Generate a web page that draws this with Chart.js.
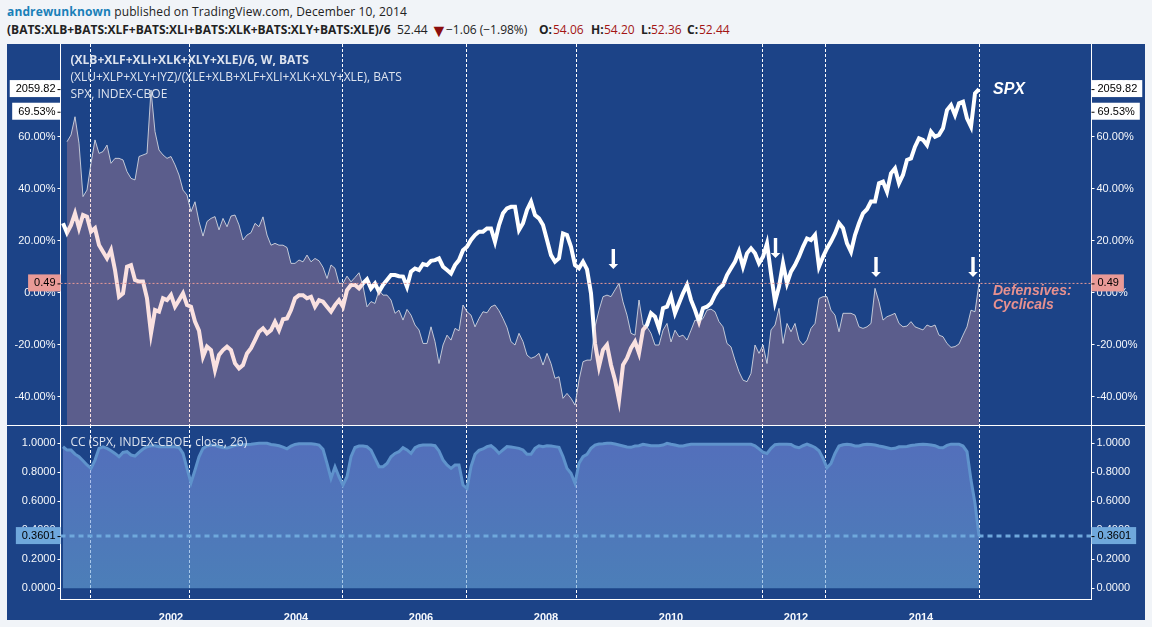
<!DOCTYPE html>
<html>
<head>
<meta charset="utf-8">
<title>Defensives:Cyclicals vs SPX</title>
<script src="https://cdn.jsdelivr.net/npm/chart.js@4"></script>
<style>
  html, body { margin: 0; padding: 0; width: 1152px; height: 627px; overflow: hidden; background: #f1f4f8; }
  #head { position: absolute; left: 0; top: 0; font-family: "Open Sans", sans-serif; font-size: 12px; line-height: 18px; color: #222; white-space: nowrap; }
  #head span { position: absolute; }
  #head .by { left: 7px; top: 3px; letter-spacing: 0.13px; }
  #head a { color: #1a80b8; font-weight: bold; }
  #head b { color: #222; }
  #head i { position: absolute; top: 21px; color: #a31515; font-style: normal; }
  #head .row { top: 21px; }
  #head .tri { top: 21px; left: 430px; font-size: 18px; color: #8c0d0d; }
  #panel { position: absolute; left: 7px; top: 44px; width: 1138px; height: 576px; background: #1c4387; }
  #top { position: absolute; left: 0; top: 0; }
  #bottom { position: absolute; left: 0; top: 381px; }
</style>
</head>
<body>
<div id="head">
  <span class="by"><a>andrewunknown</a> published on TradingView.com, December 10, 2014</span>
  <span class="row" style="left:7px"><b>(BATS:XLB+BATS:XLF+BATS:XLI+BATS:XLK+BATS:XLY+BATS:XLE)/6</b></span>
  <span class="row" style="left:397px">52.44</span>
  <span class="tri">&#9660;</span>
  <span class="row" style="left:446px">&minus;1.06 (&minus;1.98%)</span>
  <span class="row" style="left:539px"><b>O:</b></span><i style="left:553px">54.06</i>
  <span class="row" style="left:591px"><b>H:</b></span><i style="left:604px">54.20</i>
  <span class="row" style="left:641px"><b>L:</b></span><i style="left:651px">52.36</i>
  <span class="row" style="left:687px"><b>C:</b></span><i style="left:699px">52.44</i>
</div>
<div id="panel">
  <canvas id="top" width="1138" height="381"></canvas>
  <canvas id="bottom" width="1138" height="195"></canvas>
</div>
<script>
// one sample every 0.064 year
const firstDate = 2000.272;
const dateStep = 0.064;
const dates = [];
for (let i = 0; i < 230; i++) dates.push(firstDate + dateStep * i);

// defensives:cyclicals, in percent
const ratio = [null,
  58.0, 60.6, 67.6, 57.4, 36.9, 39.4, 49.7, 58.7, 53.5, 54.2, 56.7, 49.7, 51.6, 51.6, 51.0, 46.5, 43.9, 43.3, 52.3, 52.9, 53.5, 77.9, 61.9, 54.8, 52.9,
  51.6, 52.3, 49.1, 45.2, 39.4, 37.5, 31.1, 34.9, 27.3, 21.7, 27.3, 28.5, 29.2, 24.1, 28.5, 25.3, 29.4, 29.8, 26.0, 20.2, 22.1, 23.0, 26.6, 25.3,
  29.1, 22.1, 18.2, 18.9, 18.2, 18.2, 17.3, 11.2, 11.2, 12.5, 11.8, 14.4, 11.8, 13.1, 12.2, 9.7, 5.4, 10.6, 9.3, 3.5, 3.5, 6.3, 4.1, 5.8, 7.6,
  2.5, -5.5, -3.5, -4.2, 0.9, -1.0, -1.0, -2.9, -8.0, -6.8, -10.6, -6.5, -8.7, -12.5, -14.4, -19.6, -19.6, -13.2, -18.9, -27.3, -20.2, -16.4, -18.3, -13.8, -14.7,
  -4.8, -7.4, -8.7, -13.2, -10.0, -7.4, -7.8, -5.5, -4.8, -7.0, -10.0, -13.4, -18.9, -20.2, -15.7, -18.9, -24.1, -25.3, -24.7, -23.4, -27.9, -23.4, -27.3, -33.0, -32.4,
  -40.7, -38.8, -40.7, -43.3,
  -33.7, -26.6, -26.0, -26.0, -13.2, -6.8, -1.6, -1.0, -1.6, 1.0, 3.5, -3.6, -8.7, -15.7, -16.4, -2.9, -12.5, -13.2, -15.7, -20.2, -20.2, -14.5, -11.9,
  -19.0, -14.5, -17.0, -16.4, -18.3, -14.5, -10.6, -11.2, -10.0, -6.8, -6.4, -7.4, -11.2, -13.2, -19.6, -20.9, -26.0, -30.5, -33.7, -34.3, -31.1, -20.2, -23.4,
  -20.2, -27.3, -14.4, -12.5, -6.1, -19.6, -11.9, -15.1, -11.9, -18.3, -20.2, -18.3, -13.8, -11.9, -2.3, -1.6, -1.6, -6.8, -8.7, -15.1, -8.0, -8.0, -8.0, -8.7, -13.2,
  -13.8, -13.2, -11.9, 1.6, -3.6, -10.6, -9.3, -8.7, -8.0, -11.9, -13.2, -12.9, -11.2, -13.2, -13.8, -14.4, -12.5, -13.2, -12.5, -16.4, -17.0, -19.6, -21.1, -20.8, -19.8,
  -16.4, -13.2, -6.8, -7.4, 3.5
];

// S&P 500 close
const spx = [
  1466, 1424, 1458, 1510, 1444, 1503, 1495, 1429, 1444, 1370, 1340, 1311, 1348, 1259, 1141, 1156, 1274, 1281, 1215, 1208, 1208, 1134, 979, 1082, 1075,
  1134, 1126, 1149, 1097, 1126, 1156, 1104, 1097, 1031, 991, 876, 920, 905, 817, 883, 905, 920, 905, 846, 824, 839, 890, 913, 949, 986,
  1001, 979, 993, 1030, 993, 1041, 1045, 1082, 1134, 1148, 1148, 1134, 1141, 1097, 1126, 1119, 1097, 1075, 1104, 1126, 1097, 1170, 1193, 1193, 1178,
  1200, 1218, 1178, 1200, 1163, 1193, 1215, 1237, 1237, 1232, 1230, 1185, 1252, 1266, 1259, 1286, 1281, 1300, 1303, 1311, 1274, 1259, 1244, 1281, 1303,
  1347, 1362, 1392, 1414, 1429, 1429, 1443, 1443, 1384, 1458, 1510, 1532, 1539, 1539, 1436, 1466, 1525, 1561, 1502, 1488, 1458, 1392, 1325, 1296, 1311,
  1421, 1414, 1362, 1281,
  1267, 1296, 1262, 1156, 935, 832, 906, 928, 839, 773, 684, 839, 869, 913, 942, 891, 994, 1016, 1068, 1053, 1001, 1090, 1097,
  1142, 1068, 1112, 1156, 1193, 1127, 1083, 1031, 1090, 1097, 1112, 1149, 1178, 1193, 1237, 1267, 1296, 1341, 1274, 1333, 1355, 1333, 1289,
  1318, 1377, 1244, 1119, 1185, 1289, 1200, 1252, 1281, 1318, 1362, 1399, 1392, 1414, 1274, 1318, 1355, 1385, 1421, 1466, 1444, 1377, 1340, 1414, 1466,
  1510, 1528, 1562, 1562, 1643, 1650, 1606, 1687, 1709, 1643, 1680, 1746, 1753, 1805, 1842, 1835, 1812, 1871, 1849, 1857, 1886, 1967, 1989, 1945, 1997,
  2004, 1930, 1893, 2041, 2059.82
];

// CC (SPX, close, 26)
const cc = [
  .976, .953, .953, .925, .907, .880, .850, .827, .884, .965, .976, .965, .949, .930, .907, .937, .942, .919, .912, .937, .960, .976, .983, .983, .976,
  .976, .976, .976, .976, .971, .930, .827, .728, .815, .907, .965, .981, .988, .985, .976, .971, .967, .976, .985, .990, .990, .992, .994, .997, 1.0,
  1.0, 1.0, .992, .988, .983, .974, .962, .981, .992, .997, .997, .997, .997, .994, .988, .958, .861, .758, .838, .769, .712, .769, .907, .971, .981,
  .981, .976, .953, .896, .838, .838, .861, .907, .930, .942,
  .970, .954, .931, .970, .983, .988, .988, .988, .983, .947, .885, .850, .827, .850, .850, .712, .689, .839, .924, .951, .961, .977, .983, .961, .931,
  .954, .977, .974, .970, .965, .954, .924, .924, .965, .983, .977, .983, .981, .977, .972, .908, .827, .793, .724, .862, .908, .924, .965, .988, .995,
  .997, 1.0, 1.0, .995, .988, .981, .974, .972, .981, .983, .993, .988, .983, .983, .983, .988, 1.0, .993, .988, .981, .981, .988, .993,
  .993, .993, .993, .993, .993, .993, .993, .993, .993, .993, .993, .993, .993, .993, .993, .983, .961, .938,
  .930, .965, .990, .994, .994, .994, .992, .976, .969, .983, .994, .983, .971, .948, .896, .831, .861, .930, .981, .990, .994, .990, .981, .981, .990,
  .994, .992, .988, .981, .976, .969, .962, .965, .976, .976, .978, .985, .988, .992, .994, .992, .988, .983, .971, .969, .985, .994, .994, .994, .981,
  .942, .746, .585, .3601
];

// dashed verticals and the arrows above the ratio spikes
const eventDates = [2000.712, 2002.296, 2004.744, 2006.728, 2008.488, 2011.472, 2012.472, 2014.928];
const arrowDates = [2009.077, 2011.672, 2013.28, 2014.832];
const arrowTips = [9.0, 13.3, 6.0, 6.0];

// axis ticks
const pctTicks = [80, 60, 40, 20, 0, -20, -40];
const ccTicks = [1, 0.8, 0.6, 0.4, 0.2, 0];
const yearTicks = [2002, 2004, 2006, 2008, 2010, 2012, 2014];

const lastSpx = '2059.82';
const lastRatioText = '0.49';
const lastPctText = '69.53%';
const lastPct = 69.53;
const lastCcText = '0.3601';

const xMin = 2000.232, xMax = 2016.728;

const tickFont = { family: '"Liberation Sans", Arial, sans-serif', size: 11 };
const tickColor = '#f6f8fb';
const captionColor = '#dde3ee';

function pairs(values) {
  return dates.map((d, i) => ({ x: d, y: values[i] }));
}

function level(value) {
  return [{ x: xMin, y: value }, { x: xMax, y: value }];
}

function noPadding(scale) {
  scale.paddingTop = 0;
  scale.paddingBottom = 0;
  scale.paddingLeft = 0;
  scale.paddingRight = 0;
}

function yAxis(position, ticks, min, max, format) {
  return {
    position,
    min,
    max,
    afterBuildTicks: scale => { scale.ticks = ticks.map(v => ({ value: v })); },
    afterFit: scale => { scale.width = 53.5; noPadding(scale); },
    border: { display: true, color: '#ffffff', width: 1 },
    grid: { display: true, drawOnChartArea: false, drawTicks: true, tickLength: 3, color: '#ffffff' },
    ticks: { autoSkip: false, padding: 2, color: tickColor, font: tickFont, callback: format }
  };
}

function valueBox(chart, text, y, bg) {
  const ctx = chart.ctx;
  const area = chart.chartArea;
  ctx.save();
  ctx.font = '11px "Liberation Sans", Arial, sans-serif';
  ctx.textBaseline = 'middle';
  const w = ctx.measureText(text).width + 11;
  // left box
  ctx.fillStyle = bg;
  ctx.fillRect(area.left - w, y - 9, w, 17);
  ctx.fillStyle = '#000000';
  ctx.textAlign = 'right';
  ctx.fillText(text, area.left - 5, y);
  ctx.fillRect(area.left - 3, y, 3, 1);
  // right box
  ctx.fillStyle = bg;
  ctx.fillRect(area.right, y - 9, w, 17);
  ctx.fillStyle = '#000000';
  ctx.textAlign = 'left';
  ctx.fillText(text, area.right + 6, y);
  ctx.fillRect(area.right, y, 3, 1);
  ctx.restore();
}

function caption(ctx, text, x, y, font, color) {
  ctx.save();
  ctx.font = font;
  ctx.fillStyle = color;
  ctx.textAlign = 'left';
  ctx.textBaseline = 'middle';
  ctx.fillText(text, x, y);
  ctx.restore();
}

// dashed verticals sit under the area fills
const eventLines = {
  id: 'eventLines',
  beforeDatasetsDraw(chart) {
    const ctx = chart.ctx;
    const area = chart.chartArea;
    ctx.save();
    ctx.strokeStyle = '#ffffff';
    ctx.lineWidth = 1;
    ctx.setLineDash([3, 2]);
    eventDates.forEach(d => {
      const x = Math.floor(chart.scales.x.getPixelForValue(d)) + 0.5;
      ctx.beginPath();
      ctx.moveTo(x, area.top);
      ctx.lineTo(x, area.bottom);
      ctx.stroke();
    });
    ctx.restore();
  }
};

const topDecor = {
  id: 'topDecor',
  afterDraw(chart) {
    const ctx = chart.ctx;
    const sx = chart.scales.x, sy = chart.scales.y, sp = chart.scales.ySpx;
    // arrows
    ctx.save();
    ctx.fillStyle = '#ffffff';
    arrowDates.forEach((d, i) => {
      const x = sx.getPixelForValue(d);
      const tip = sy.getPixelForValue(arrowTips[i]);
      ctx.beginPath();
      ctx.moveTo(x - 1.7, tip - 20);
      ctx.lineTo(x + 1.7, tip - 20);
      ctx.lineTo(x + 1.7, tip - 5);
      ctx.lineTo(x + 4.8, tip - 5);
      ctx.lineTo(x, tip);
      ctx.lineTo(x - 4.8, tip - 5);
      ctx.lineTo(x - 1.7, tip - 5);
      ctx.closePath();
      ctx.fill();
    });
    ctx.restore();
    valueBox(chart, lastSpx, sp.getPixelForValue(parseFloat(lastSpx)), '#ffffff');
    valueBox(chart, lastPctText, sy.getPixelForValue(lastPct), '#ffffff');
    valueBox(chart, lastRatioText, sy.getPixelForValue(ratio[ratio.length - 1]), '#e99a97');
    const capX = chart.chartArea.left + 10;
    caption(ctx, '(XLB+XLF+XLI+XLK+XLY+XLE)/6, W, BATS', capX, 17, 'bold 12px "Open Sans", sans-serif', captionColor);
    caption(ctx, '(XLU+XLP+XLY+IYZ)/(XLE+XLB+XLF+XLI+XLK+XLY+XLE), BATS', capX, 34, '12px "Open Sans", sans-serif', captionColor);
    caption(ctx, 'SPX, INDEX-CBOE', capX, 51, '12px "Open Sans", sans-serif', captionColor);
    const sideX = sx.getPixelForValue(dates[dates.length - 1]) + 14;
    caption(ctx, 'SPX', sideX, 46, 'italic bold 16px "Liberation Sans", Arial, sans-serif', '#ffffff');
    caption(ctx, 'Defensives:', sideX, 247, 'italic bold 14px "Liberation Sans", Arial, sans-serif', '#e8918f');
    caption(ctx, 'Cyclicals', sideX, 261, 'italic bold 14px "Liberation Sans", Arial, sans-serif', '#e8918f');
  }
};

const bottomDecor = {
  id: 'bottomDecor',
  afterDraw(chart) {
    const ctx = chart.ctx;
    // pane separator
    ctx.save();
    ctx.fillStyle = '#ffffff';
    ctx.fillRect(0, 0, chart.width, 1);
    ctx.restore();
    valueBox(chart, lastCcText, chart.scales.y.getPixelForValue(cc[cc.length - 1]), '#6fa8dc');
    caption(ctx, 'CC (SPX, INDEX-CBOE, close, 26)', chart.chartArea.left + 10, 18, '12px "Open Sans", sans-serif', captionColor);
  }
};

const topConfig = {
  type: 'line',
  data: {
    datasets: [{
      label: 'SPX',
      data: pairs(spx),
      yAxisID: 'ySpx',
      borderColor: '#ffffff',
      borderWidth: 4,
      borderJoinStyle: 'miter',
      order: 3
    }, {
      label: 'Defensives:Cyclicals',
      data: pairs(ratio),
      yAxisID: 'y',
      borderColor: 'rgba(226,229,234,0.8)',
      borderWidth: 1,
      backgroundColor: 'rgba(238,157,152,0.3)',
      fill: 'start',
      order: 2
    }, {
      label: 'last ratio',
      data: level(ratio[ratio.length - 1]),
      yAxisID: 'y',
      borderColor: '#e99a97',
      borderWidth: 1,
      borderDash: [2, 2],
      order: 1
    }]
  },
  options: {
    responsive: false,
    animation: false,
    events: [],
    layout: { padding: 0 },
    elements: { point: { radius: 0 }, line: { tension: 0 } },
    plugins: { legend: { display: false }, tooltip: { enabled: false } },
    scales: {
      x: { type: 'linear', min: xMin, max: xMax, display: false },
      y: yAxis('left', pctTicks, -50.96, 95.58, v => v.toFixed(2) + '%'),
      yRight: yAxis('right', pctTicks, -50.96, 95.58, v => v.toFixed(2) + '%'),
      ySpx: { display: false, min: 573.4, max: 2259.3 }
    }
  },
  plugins: [eventLines, topDecor]
};

const bottomConfig = {
  type: 'line',
  data: {
    datasets: [{
      label: 'CC',
      data: pairs(cc),
      yAxisID: 'y',
      borderColor: '#5f93cc',
      borderWidth: 3,
      backgroundColor(context) {
        const chart = context.chart;
        if (!chart.chartArea) return 'rgba(114,155,220,0.6)';
        const g = chart.ctx.createLinearGradient(0, chart.scales.y.getPixelForValue(1), 0, chart.scales.y.getPixelForValue(0));
        g.addColorStop(0, 'rgba(120,142,222,0.6)');
        g.addColorStop(1, 'rgba(108,167,217,0.6)');
        return g;
      },
      fill: 'origin',
      order: 2
    }, {
      label: 'last CC',
      data: level(cc[cc.length - 1]),
      yAxisID: 'y',
      borderColor: '#6fa8dc',
      borderWidth: 3,
      borderDash: [5, 4],
      order: 1
    }]
  },
  options: {
    responsive: false,
    animation: false,
    events: [],
    layout: { padding: 0 },
    elements: { point: { radius: 0 }, line: { tension: 0 } },
    plugins: { legend: { display: false }, tooltip: { enabled: false } },
    scales: {
      x: {
        type: 'linear',
        min: xMin,
        max: xMax,
        afterBuildTicks: scale => { scale.ticks = yearTicks.map(v => ({ value: v })); },
        afterFit: scale => { scale.height = 21; noPadding(scale); },
        border: { display: true, color: '#ffffff', width: 1 },
        grid: { display: false },
        ticks: {
          autoSkip: false,
          maxRotation: 0,
          padding: 4,
          color: tickColor,
          font: { family: tickFont.family, size: 11, weight: 'bold' },
          callback: v => String(v)
        }
      },
      y: yAxis('left', ccTicks, -0.0738, 1.126, v => v.toFixed(4)),
      yRight: yAxis('right', ccTicks, -0.0738, 1.126, v => v.toFixed(4))
    }
  },
  plugins: [eventLines, bottomDecor]
};

const topChart = new Chart(document.getElementById('top'), topConfig);
const bottomChart = new Chart(document.getElementById('bottom'), bottomConfig);
</script>
</body>
</html>
